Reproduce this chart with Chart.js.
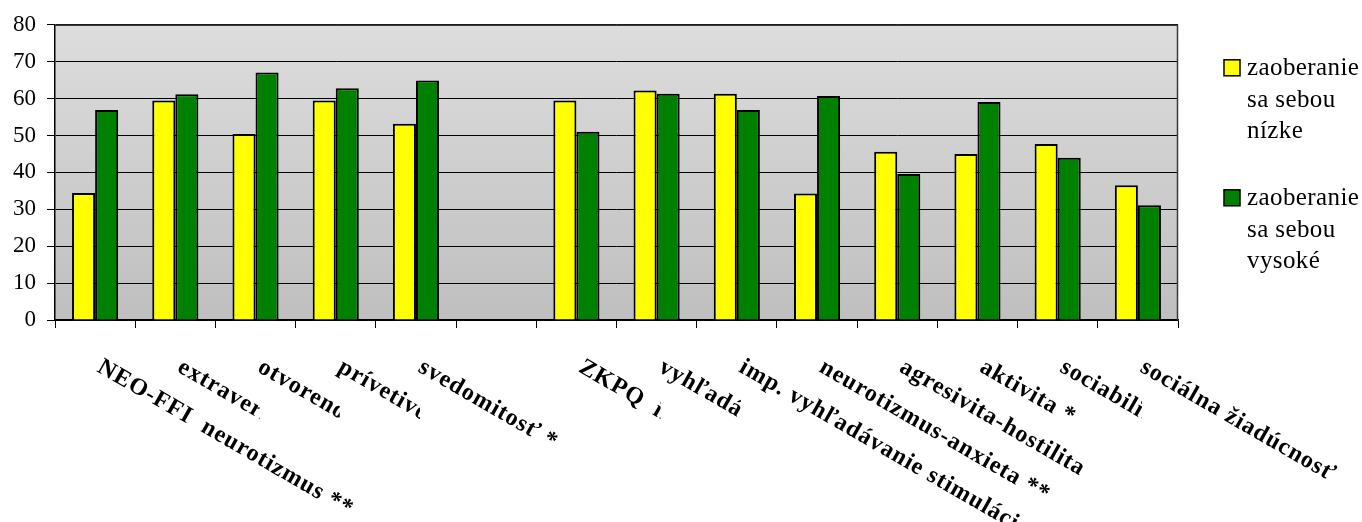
<!DOCTYPE html>
<html>
<head>
<meta charset="utf-8">
<script src="https://cdn.jsdelivr.net/npm/chart.js@4/dist/chart.umd.min.js"></script>
<style>
  html, body { margin: 0; padding: 0; background: #ffffff; }
  #wrap { width: 1362px; height: 522px; }
</style>
</head>
<body>
<div id="wrap"><canvas id="chart" width="1362" height="522"></canvas></div>
<script>
// Scales of the two questionnaires (NEO-FFI, ZKPQ); the sixth slot is an empty separator
const categories = [
  'NEO-FFI  neurotizmus **',
  'extraverzia',
  'otvorenosť',
  'prívetivosť',
  'svedomitosť *',
  '',
  'ZKPQ  impulzivita',
  'vyhľadávanie stimulácie',
  'imp. vyhľadávanie stimulácie',
  'neurotizmus-anxieta **',
  'agresivita-hostilita',
  'aktivita *',
  'sociabilita',
  'sociálna žiadúcnosť'
];

const seriesNames = ['zaoberanie sa sebou nízke', 'zaoberanie sa sebou vysoké'];

const lowValues  = [34.4, 59.5, 50.4, 59.5, 53.2, null, 59.5, 62.2, 61.3, 34.3, 45.6, 45.0, 47.7, 36.5];
const highValues = [56.9, 61.2, 67.1, 62.8, 64.9, null, 51.0, 61.3, 56.9, 60.7, 39.6, 59.1, 44.0, 31.1];

const yTicks = [0, 10, 20, 30, 40, 50, 60, 70, 80];

// labels rendered as softened bitmaps that mask the label before them
const maskedLabels = new Set([2, 3, 4, 7, 8, 13]);

const SERIF = '"Liberation Serif", "Times New Roman", serif';

// grey gradient behind the plot and the frame around it
const plotBackground = {
  id: 'plotBackground',
  beforeDraw(chart) {
    const { ctx, chartArea: a } = chart;
    const g = ctx.createLinearGradient(0, a.top, 0, a.bottom);
    g.addColorStop(0, '#dddddd');
    g.addColorStop(1, '#bfbfbf');
    ctx.save();
    ctx.fillStyle = g;
    ctx.fillRect(a.left, a.top, a.right - a.left, a.bottom - a.top);
    ctx.restore();
  },
  afterDatasetsDraw(chart) {
    const { ctx, chartArea: a } = chart;
    ctx.save();
    ctx.strokeStyle = '#3a3a3a';
    ctx.lineWidth = 1.5;
    ctx.beginPath();
    ctx.moveTo(a.left, a.top + 0.5);
    ctx.lineTo(a.right - 0.5, a.top + 0.5);
    ctx.lineTo(a.right - 0.5, a.bottom);
    ctx.stroke();
    ctx.restore();
  }
};

// slanted category labels under the x axis
const slantedLabels = {
  id: 'slantedLabels',
  afterDraw(chart) {
    const { ctx } = chart;
    const xs = chart.scales.x;
    const baseY = xs.top + 51;
    categories.forEach((label, i) => {
      if (!label) return;
      const cx = xs.getPixelForValue(i);
      ctx.save();
      if (maskedLabels.has(i + 1)) {
        const cut = xs.getPixelForValue(i + 1) + 4;
        ctx.beginPath();
        ctx.rect(0, 0, cut, chart.height);
        ctx.clip();
      }
      if (maskedLabels.has(i)) ctx.filter = 'blur(0.7px)';
      ctx.font = 'bold 24px ' + SERIF;
      ctx.letterSpacing = '1px';
      ctx.fillStyle = '#000000';
      ctx.textAlign = 'left';
      ctx.textBaseline = 'alphabetic';
      ctx.translate(cx + 1, baseY);
      ctx.rotate(Math.PI / 6);
      ctx.fillText(label, 0, 0);
      ctx.restore();
    });
  }
};

// legend on the right with wrapped series names
const sideLegend = {
  id: 'sideLegend',
  afterDraw(chart) {
    const { ctx, chartArea: a } = chart;
    const boxX = a.right + 46;
    const textX = boxX + 23;
    const lineH = 31.5;
    const maxW = 120;
    let y = a.top + 43;
    ctx.save();
    ctx.font = '25px ' + SERIF;
    ctx.letterSpacing = '0.4px';
    ctx.textBaseline = 'middle';
    ctx.textAlign = 'left';
    chart.data.datasets.forEach(ds => {
      const words = ds.label.split(' ');
      const lines = [];
      let cur = '';
      words.forEach(w => {
        const t = cur ? cur + ' ' + w : w;
        if (cur && ctx.measureText(t).width > maxW) { lines.push(cur); cur = w; }
        else cur = t;
      });
      if (cur) lines.push(cur);
      ctx.fillStyle = ds.backgroundColor;
      ctx.fillRect(boxX, y - 8, 16, 16);
      ctx.strokeStyle = '#000000';
      ctx.lineWidth = 1.5;
      ctx.strokeRect(boxX, y - 8, 16, 16);
      ctx.fillStyle = '#000000';
      lines.forEach((ln, k) => ctx.fillText(ln, textX, y + k * lineH + 1));
      y += (lines.length + 1) * lineH + 4;
    });
    ctx.restore();
  }
};

new Chart(document.getElementById('chart'), {
  type: 'bar',
  data: {
    labels: categories,
    datasets: [
      {
        label: seriesNames[0],
        data: lowValues,
        backgroundColor: '#ffff00',
        borderColor: '#000000',
        borderWidth: 2
      },
      {
        label: seriesNames[1],
        data: highValues,
        backgroundColor: '#008000',
        borderColor: '#000000',
        borderWidth: 2
      }
    ]
  },
  options: {
    responsive: false,
    animation: false,
    devicePixelRatio: 1,
    layout: { padding: { top: 22, right: 184, left: 0, bottom: 0 } },
    datasets: { bar: { categoryPercentage: 0.575, barPercentage: 1.0 } },
    plugins: {
      legend: { display: false },
      tooltip: { enabled: false }
    },
    scales: {
      x: {
        offset: true,
        grid: {
          offset: true,
          drawOnChartArea: false,
          drawTicks: true,
          tickLength: 8,
          color: '#000000',
          lineWidth: 1
        },
        border: { display: true, color: '#000000', width: 1.5 },
        ticks: { display: false },
        afterFit(scale) { scale.height = 202; }
      },
      y: {
        min: 0,
        max: 80,
        afterBuildTicks(scale) { scale.ticks = yTicks.map(v => ({ value: v })); },
        grid: {
          color: '#000000',
          lineWidth: 1,
          drawTicks: true,
          tickLength: 8
        },
        border: { display: true, color: '#000000', width: 1.5 },
        ticks: {
          color: '#000000',
          padding: 11,
          font: { family: SERIF, size: 23 }
        },
        afterFit(scale) { scale.width = 55; }
      }
    }
  },
  plugins: [plotBackground, slantedLabels, sideLegend]
});
</script>
</body>
</html>
